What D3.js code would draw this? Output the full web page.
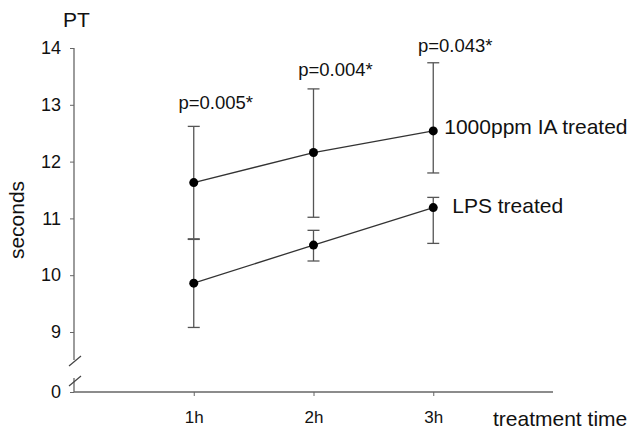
<!DOCTYPE html>
<html>
<head>
<meta charset="utf-8">
<script src="https://cdn.jsdelivr.net/npm/d3@7"></script>
<style>
  body { margin: 0; background: #fff; }
  svg { font-family: "Liberation Sans", Arial, sans-serif; }
</style>
</head>
<body>
<div id="chart"></div>
<script>
const times = ["1h", "2h", "3h"];
const iaMean = [11.63, 12.16, 12.54];
const iaUpper = [12.62, 13.28, 13.74];
const iaLower = [10.64, 11.02, 11.80];
const lpsMean = [9.86, 10.53, 11.19];
const lpsUpper = [10.63, 10.79, 11.37];
const lpsLower = [9.08, 10.25, 10.56];
const pLabels = ["p=0.005*", "p=0.004*", "p=0.043*"];
const yTicks = [0, 9, 10, 11, 12, 13, 14];

const width = 632, height = 433;
const svg = d3.select("#chart").append("svg")
  .attr("width", width).attr("height", height);

const x = d3.scalePoint().domain(times).range([74, 553]).padding(1);
const y = d3.scaleLinear().domain([0, 9, 14]).range([392, 332, 48]);

const axisColor = "#666";
const textColor = "#111";

// y axis (broken)
const yAxis = svg.append("g").attr("transform", "translate(74,0)")
  .call(d3.axisLeft(y).tickValues(yTicks).tickSize(4).tickPadding(9));
yAxis.select(".domain").remove();
yAxis.selectAll(".tick line").attr("stroke", axisColor);
yAxis.selectAll(".tick text").attr("font-size", 18).attr("fill", textColor);

svg.append("line").attr("x1", 74).attr("x2", 74)
  .attr("y1", y(14)).attr("y2", y(9) + 28)
  .attr("stroke", axisColor).attr("stroke-width", 1.3);
svg.append("line").attr("x1", 74).attr("x2", 74)
  .attr("y1", y(0)).attr("y2", y(0) - 14)
  .attr("stroke", axisColor).attr("stroke-width", 1.3);
// break slashes
[y(9) + 29, y(0) - 11].forEach(cy => {
  svg.append("line").attr("x1", 69).attr("x2", 81)
    .attr("y1", cy + 5).attr("y2", cy - 5)
    .attr("stroke", "#444").attr("stroke-width", 1.2);
});

// x axis
const xAxis = svg.append("g").attr("transform", `translate(0,${y(0)})`)
  .call(d3.axisBottom(x).tickSize(4).tickSizeOuter(0).tickPadding(15));
xAxis.select(".domain").attr("stroke", axisColor).attr("stroke-width", 1.6)
  .attr("d", "M74,0H553");
xAxis.selectAll(".tick line").attr("stroke", axisColor);
xAxis.selectAll(".tick text").attr("font-size", 17).attr("fill", textColor);

svg.append("text").attr("x", 493).attr("y", 426)
  .attr("font-size", 21).attr("fill", textColor).text("treatment time");
svg.append("text").attr("x", 63).attr("y", 27)
  .attr("font-size", 21).attr("fill", textColor).text("PT");
svg.append("text")
  .attr("transform", "translate(24,220) rotate(-90)")
  .attr("text-anchor", "middle")
  .attr("font-size", 21).attr("fill", textColor).text("seconds");

// series
const series = [
  { mean: iaMean, up: iaUpper, lo: iaLower, label: "1000ppm IA treated", dy: 3 },
  { mean: lpsMean, up: lpsUpper, lo: lpsLower, label: "LPS treated", dy: 5 }
];

series.forEach(s => {
  const g = svg.append("g");
  times.forEach((t, i) => {
    g.append("line").attr("x1", x(t)).attr("x2", x(t))
      .attr("y1", y(s.up[i])).attr("y2", y(s.lo[i]))
      .attr("stroke", "#555").attr("stroke-width", 1.3);
    [s.up[i], s.lo[i]].forEach(v => {
      g.append("line").attr("x1", x(t) - 6).attr("x2", x(t) + 6)
        .attr("y1", y(v)).attr("y2", y(v))
        .attr("stroke", "#555").attr("stroke-width", 1.3);
    });
  });
  g.append("path")
    .datum(s.mean)
    .attr("fill", "none").attr("stroke", "#333").attr("stroke-width", 1.3)
    .attr("d", d3.line().x((d, i) => x(times[i])).y(d => y(d)));
  g.selectAll("circle").data(s.mean).join("circle")
    .attr("cx", (d, i) => x(times[i])).attr("cy", d => y(d))
    .attr("r", 4.5).attr("fill", "#000");
  g.append("text")
    .attr("x", x(times[2]) + 11 + (s.dy === 5 ? 8 : 0))
    .attr("y", y(s.mean[2]) + s.dy)
    .attr("font-size", 21).attr("fill", textColor).text(s.label);
});

// p-values above upper error bars
const pGap = [17, 13, 11];
times.forEach((t, i) => {
  svg.append("text")
    .attr("x", x(t) + 22).attr("y", y(iaUpper[i]) - pGap[i])
    .attr("text-anchor", "middle")
    .attr("font-size", 18.5).attr("fill", textColor).text(pLabels[i]);
});
</script>
</body>
</html>
